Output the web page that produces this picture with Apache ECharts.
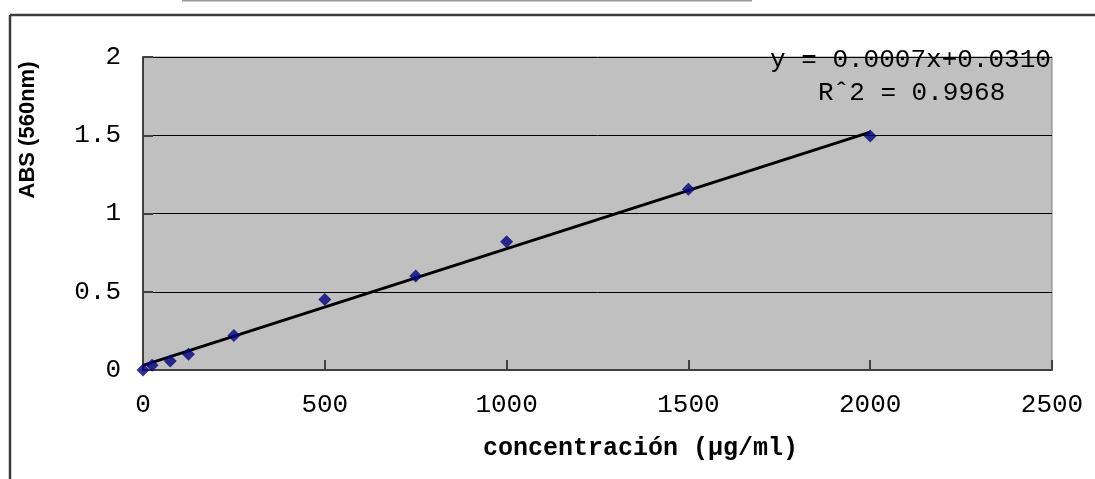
<!DOCTYPE html>
<html>
<head>
<meta charset="utf-8">
<script src="https://cdn.jsdelivr.net/npm/echarts@6/dist/echarts.min.js"></script>
<style>
  html, body { margin: 0; padding: 0; background: #fff; }
  #chart { width: 1095px; height: 479px; }
</style>
</head>
<body>
<div id="chart"></div>
<script>
// concentración (µg/ml) vs absorbancia a 560nm
var concentracion = [0, 25, 75, 125, 250, 500, 750, 1000, 1500, 2000];
var absorbancia = [0, 0.03, 0.057, 0.10, 0.22, 0.45, 0.60, 0.82, 1.155, 1.495];

// recta de ajuste tal como aparece dibujada
var ajusteX = [0, 2000];
var ajusteY = [0.03, 1.52];

var ecuacion = ['y = 0.0007x+0.0310', 'R\u02c62 = 0.9968'];

var monoFont = '"Liberation Mono", "DejaVu Sans Mono", monospace';

var chart = echarts.init(document.getElementById('chart'));

var option = {
    animation: false,
    backgroundColor: '#fff',
    grid: {
        left: 143,
        top: 57,
        right: 43,
        bottom: 109,
        show: true,
        backgroundColor: '#c0c0c0',
        borderColor: '#808080',
        borderWidth: 1
    },
    xAxis: {
        type: 'value',
        min: 0,
        max: 2500,
        interval: 500,
        name: 'concentración (μg/ml)',
        nameLocation: 'middle',
        nameGap: 66,
        nameTextStyle: {
            fontFamily: monoFont,
            fontWeight: 'bold',
            fontSize: 25,
            color: '#000',
            padding: [0, 0, 0, 86]
        },
        axisLine: { show: true, lineStyle: { color: '#404040', width: 2 } },
        axisTick: { show: true, inside: true, length: 10, lineStyle: { color: '#404040', width: 2 } },
        axisLabel: {
            fontFamily: monoFont, fontSize: 26, color: '#000', margin: 22,
            formatter: function (v) { return String(v); }
        },
        splitLine: { show: false }
    },
    yAxis: {
        type: 'value',
        min: 0,
        max: 2,
        interval: 0.5,
        axisLine: { show: true, lineStyle: { color: '#404040', width: 2 } },
        axisTick: { show: true, inside: true, length: 10, lineStyle: { color: '#404040', width: 2 } },
        axisLabel: {
            fontFamily: monoFont, fontSize: 26, color: '#000', margin: 22,
            formatter: function (v) { return String(v); }
        },
        splitLine: { show: true, lineStyle: { color: '#000', width: 1 } }
    },
    series: [
        {
            name: 'ajuste',
            type: 'line',
            data: ajusteX.map(function (x, i) { return [x, ajusteY[i]]; }),
            showSymbol: false,
            lineStyle: { color: '#000', width: 3 },
            z: 2
        },
        {
            name: 'ABS',
            type: 'scatter',
            symbol: 'diamond',
            symbolSize: 13,
            data: concentracion.map(function (x, i) { return [x, absorbancia[i]]; }),
            itemStyle: { color: '#00007a' },
            z: 3
        }
    ],
    graphic: [
        { type: 'line', shape: { x1: 10, y1: 15, x2: 1095, y2: 15 }, style: { stroke: '#3c3c3c', lineWidth: 2.5 } },
        { type: 'line', shape: { x1: 10, y1: 15, x2: 10, y2: 479 }, style: { stroke: '#3c3c3c', lineWidth: 2.5 } },
        { type: 'line', shape: { x1: 182, y1: 0.5, x2: 752, y2: 0.5 }, style: { stroke: '#9a9a9a', lineWidth: 2 } },
        {
            type: 'text', x: 28, y: 130, rotation: Math.PI / 2, z: 10,
            style: {
                text: 'ABS (560nm)',
                font: 'bold 22px "Liberation Sans", Arial, sans-serif',
                fill: '#000', align: 'center', verticalAlign: 'middle'
            }
        },
        {
            type: 'text', left: 770, top: 47, z: 10,
            style: { text: ecuacion[0], font: '26px ' + monoFont, fill: '#000' }
        },
        {
            type: 'text', left: 818, top: 80, z: 10,
            style: { text: ecuacion[1], font: '26px ' + monoFont, fill: '#000' }
        }
    ]
};

chart.setOption(option);
</script>
</body>
</html>
